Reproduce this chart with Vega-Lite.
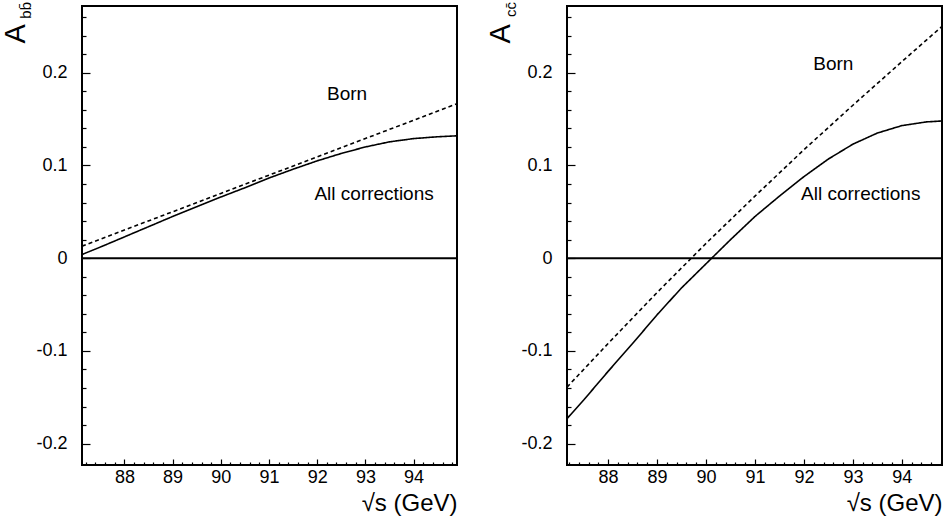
{
  "$schema": "https://vega.github.io/schema/vega-lite/v6.json",
  "background": "white",
  "padding": {"left": 0, "top": 0, "right": 5, "bottom": 5},
  "bounds": "flush",
  "spacing": 110,
  "datasets": {
    "b": [
      {"x": 87.12, "A": 0.013, "series": "Born"},
      {"x": 88, "A": 0.0304, "series": "Born"},
      {"x": 89, "A": 0.0501, "series": "Born"},
      {"x": 90, "A": 0.0699, "series": "Born"},
      {"x": 91, "A": 0.0896, "series": "Born"},
      {"x": 92, "A": 0.1093, "series": "Born"},
      {"x": 93, "A": 0.1291, "series": "Born"},
      {"x": 94, "A": 0.1488, "series": "Born"},
      {"x": 94.9, "A": 0.1666, "series": "Born"},
      {"x": 87.12, "A": 0.004, "series": "All corrections"},
      {"x": 87.5, "A": 0.012, "series": "All corrections"},
      {"x": 88, "A": 0.023, "series": "All corrections"},
      {"x": 88.5, "A": 0.034, "series": "All corrections"},
      {"x": 89, "A": 0.045, "series": "All corrections"},
      {"x": 89.5, "A": 0.0555, "series": "All corrections"},
      {"x": 90, "A": 0.066, "series": "All corrections"},
      {"x": 90.5, "A": 0.076, "series": "All corrections"},
      {"x": 91, "A": 0.0865, "series": "All corrections"},
      {"x": 91.5, "A": 0.096, "series": "All corrections"},
      {"x": 92, "A": 0.105, "series": "All corrections"},
      {"x": 92.5, "A": 0.113, "series": "All corrections"},
      {"x": 93, "A": 0.12, "series": "All corrections"},
      {"x": 93.5, "A": 0.1255, "series": "All corrections"},
      {"x": 94, "A": 0.129, "series": "All corrections"},
      {"x": 94.5, "A": 0.131, "series": "All corrections"},
      {"x": 94.9, "A": 0.132, "series": "All corrections"}
    ],
    "c": [
      {"x": 87.16, "A": -0.139, "series": "Born"},
      {"x": 88, "A": -0.092, "series": "Born"},
      {"x": 89, "A": -0.037, "series": "Born"},
      {"x": 90, "A": 0.016, "series": "Born"},
      {"x": 91, "A": 0.067, "series": "Born"},
      {"x": 92, "A": 0.117, "series": "Born"},
      {"x": 93, "A": 0.165, "series": "Born"},
      {"x": 94, "A": 0.212, "series": "Born"},
      {"x": 94.82, "A": 0.25, "series": "Born"},
      {"x": 87.16, "A": -0.173, "series": "All corrections"},
      {"x": 87.5, "A": -0.153, "series": "All corrections"},
      {"x": 88, "A": -0.122, "series": "All corrections"},
      {"x": 88.5, "A": -0.092, "series": "All corrections"},
      {"x": 89, "A": -0.061, "series": "All corrections"},
      {"x": 89.5, "A": -0.032, "series": "All corrections"},
      {"x": 90, "A": -0.006, "series": "All corrections"},
      {"x": 90.5, "A": 0.02, "series": "All corrections"},
      {"x": 91, "A": 0.045, "series": "All corrections"},
      {"x": 91.5, "A": 0.067, "series": "All corrections"},
      {"x": 92, "A": 0.088, "series": "All corrections"},
      {"x": 92.5, "A": 0.107, "series": "All corrections"},
      {"x": 93, "A": 0.123, "series": "All corrections"},
      {"x": 93.5, "A": 0.135, "series": "All corrections"},
      {"x": 94, "A": 0.143, "series": "All corrections"},
      {"x": 94.5, "A": 0.147, "series": "All corrections"},
      {"x": 94.82, "A": 0.148, "series": "All corrections"}
    ],
    "blabels": [
      {"x": 92.62, "A": 0.177, "label": "Born"},
      {"x": 93.18, "A": 0.069, "label": "All corrections"}
    ],
    "clabels": [
      {"x": 92.6, "A": 0.209, "label": "Born"},
      {"x": 93.16, "A": 0.069, "label": "All corrections"}
    ],
    "zero": [{"v": 0}]
  },
  "hconcat": [
    {
      "width": 375,
      "height": 459,
      "title": {"text": "bb̄", "orient": "left", "anchor": "end", "frame": "group", "angle": 270, "align": "right", "baseline": "alphabetic", "fontSize": 15, "offset": 0, "dx": 4, "dy": 45, "font": "Liberation Sans", "fontWeight": "normal", "color": "black"},
      "layer": [
        {
          "data": {"name": "b"},
          "mark": {"type": "line", "color": "black", "strokeWidth": 1.6, "clip": true},
          "encoding": {
            "x": {"field": "x", "type": "quantitative", "scale": {"domain": [87.12, 94.9], "nice": false, "zero": false},
              "axis": {
                "values": [87.2,87.4,87.6,87.8,88,88.2,88.4,88.6,88.8,89,89.2,89.4,89.6,89.8,90,90.2,90.4,90.6,90.8,91,91.2,91.4,91.6,91.8,92,92.2,92.4,92.6,92.8,93,93.2,93.4,93.6,93.8,94,94.2,94.4,94.6,94.8],
                "tickCount": 1000,
                "tickSize": {"condition": {"test": "datum.value % 1 === 0", "value": -6}, "value": -3},
                "labelExpr": "datum.value % 1 === 0 ? format(datum.value, 'd') : ''",
                "labelOverlap": false, "labelFlush": false,
                "labelPadding": 9,
                "title": "√s (GeV)", "titleFontSize": 24, "titleAnchor": "end", "titlePadding": 2
              }
            },
            "y": {"field": "A", "type": "quantitative", "scale": {"domain": [-0.223, 0.272], "nice": false, "zero": false},
              "axis": {
                "values": [-0.2,-0.18,-0.16,-0.14,-0.12,-0.1,-0.08,-0.06,-0.04,-0.02,0,0.02,0.04,0.06,0.08,0.1,0.12,0.14,0.16,0.18,0.2,0.22,0.24,0.26],
                "tickCount": 1000,
                "tickSize": {"condition": {"test": "abs(datum.value*10 - round(datum.value*10)) < 0.000001", "value": -8}, "value": -4},
                "labelExpr": "abs(datum.value*10 - round(datum.value*10)) < 0.000001 ? (datum.value == 0 ? '0' : (datum.value < 0 ? '-' : '') + format(abs(datum.value), '.1f')) : ''",
                "labelOverlap": false, "labelFlush": false,
                "labelPadding": 23,
                "title": "A", "titleFontSize": 29, "titleAngle": 270, "titleAlign": "left", "titleBaseline": "alphabetic", "titleX": -58, "titleY": 37
              }
            },
            "strokeDash": {"field": "series", "type": "nominal", "scale": {"domain": ["Born", "All corrections"], "range": [[4, 3], [1, 0]]}, "legend": null}
          }
        },
        {
          "data": {"name": "zero"},
          "mark": {"type": "rule", "color": "black", "strokeWidth": 2},
          "encoding": {"y": {"field": "v", "type": "quantitative"}}
        },
        {
          "data": {"name": "blabels"},
          "mark": {"type": "text", "font": "Liberation Sans", "fontSize": 19, "color": "black", "align": "center", "baseline": "middle"},
          "encoding": {
            "x": {"field": "x", "type": "quantitative"},
            "y": {"field": "A", "type": "quantitative"},
            "text": {"field": "label", "type": "nominal"}
          }
        }
      ]
    },
    {
      "width": 375,
      "height": 459,
      "title": {"text": "cc̄", "orient": "left", "anchor": "end", "frame": "group", "angle": 270, "align": "right", "baseline": "alphabetic", "fontSize": 15, "offset": 0, "dx": 4, "dy": 45, "font": "Liberation Sans", "fontWeight": "normal", "color": "black"},
      "layer": [
        {
          "data": {"name": "c"},
          "mark": {"type": "line", "color": "black", "strokeWidth": 1.6, "clip": true},
          "encoding": {
            "x": {"field": "x", "type": "quantitative", "scale": {"domain": [87.16, 94.82], "nice": false, "zero": false},
              "axis": {
                "values": [87.2,87.4,87.6,87.8,88,88.2,88.4,88.6,88.8,89,89.2,89.4,89.6,89.8,90,90.2,90.4,90.6,90.8,91,91.2,91.4,91.6,91.8,92,92.2,92.4,92.6,92.8,93,93.2,93.4,93.6,93.8,94,94.2,94.4,94.6,94.8],
                "tickCount": 1000,
                "tickSize": {"condition": {"test": "datum.value % 1 === 0", "value": -6}, "value": -3},
                "labelExpr": "datum.value % 1 === 0 ? format(datum.value, 'd') : ''",
                "labelOverlap": false, "labelFlush": false,
                "labelPadding": 9,
                "title": "√s (GeV)", "titleFontSize": 24, "titleAnchor": "end", "titlePadding": 2
              }
            },
            "y": {"field": "A", "type": "quantitative", "scale": {"domain": [-0.223, 0.272], "nice": false, "zero": false},
              "axis": {
                "values": [-0.2,-0.18,-0.16,-0.14,-0.12,-0.1,-0.08,-0.06,-0.04,-0.02,0,0.02,0.04,0.06,0.08,0.1,0.12,0.14,0.16,0.18,0.2,0.22,0.24,0.26],
                "tickCount": 1000,
                "tickSize": {"condition": {"test": "abs(datum.value*10 - round(datum.value*10)) < 0.000001", "value": -8}, "value": -4},
                "labelExpr": "abs(datum.value*10 - round(datum.value*10)) < 0.000001 ? (datum.value == 0 ? '0' : (datum.value < 0 ? '-' : '') + format(abs(datum.value), '.1f')) : ''",
                "labelOverlap": false, "labelFlush": false,
                "labelPadding": 23,
                "title": "A", "titleFontSize": 29, "titleAngle": 270, "titleAlign": "left", "titleBaseline": "alphabetic", "titleX": -58, "titleY": 37
              }
            },
            "strokeDash": {"field": "series", "type": "nominal", "scale": {"domain": ["Born", "All corrections"], "range": [[4, 3], [1, 0]]}, "legend": null}
          }
        },
        {
          "data": {"name": "zero"},
          "mark": {"type": "rule", "color": "black", "strokeWidth": 2},
          "encoding": {"y": {"field": "v", "type": "quantitative"}}
        },
        {
          "data": {"name": "clabels"},
          "mark": {"type": "text", "font": "Liberation Sans", "fontSize": 19, "color": "black", "align": "center", "baseline": "middle"},
          "encoding": {
            "x": {"field": "x", "type": "quantitative"},
            "y": {"field": "A", "type": "quantitative"},
            "text": {"field": "label", "type": "nominal"}
          }
        }
      ]
    }
  ],
  "config": {
    "view": {"stroke": "black", "strokeWidth": 2},
    "axis": {
      "domain": false, "grid": false,
      "labelFont": "Liberation Sans", "labelFontSize": 18, "labelColor": "black",
      "tickColor": "black", "tickWidth": 1.2,
      "titleFont": "Liberation Sans", "titleFontWeight": "normal", "titleColor": "black"
    }
  }
}
